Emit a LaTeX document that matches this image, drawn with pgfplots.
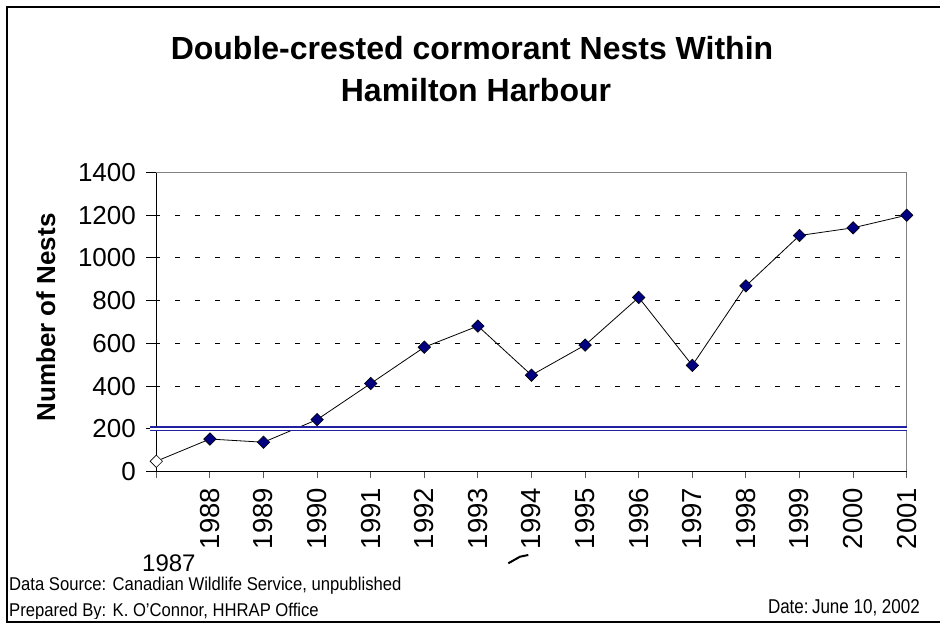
\documentclass[border=0pt]{standalone}
\usepackage{fontspec}
\setmainfont{Liberation Sans}
\usepackage{pgfplots}
\pgfplotsset{compat=1.18}
\usepackage{graphicx}

\definecolor{nestnavy}{RGB}{0,0,128}
\definecolor{targetblue}{RGB}{32,32,160}
\definecolor{framegray}{RGB}{128,128,128}

\newcommand{\fsz}[1]{\fontsize{#1bp}{#1bp}\selectfont}

\begin{document}
\begin{tikzpicture}
\useasboundingbox (0,0) rectangle (940bp,624bp);

% outer frame: left, top and bottom edges (right edge runs off the page)
\draw[line width=1.3bp] (950bp,617bp) -- (7bp,617bp) -- (7bp,2bp) -- (950bp,2bp);

% title
\node[anchor=base, font=\fsz{32}\bfseries] at (472bp,564bp) {Double-crested cormorant Nests Within};
\node[anchor=base, font=\fsz{32}\bfseries] at (476bp,522bp) {Hamilton Harbour};

% y axis title
\node[anchor=base, rotate=90, font=\fsz{26}\bfseries] at (55bp,306.5bp) {Number of Nests};

\begin{axis}[
  at={(156.3bp,152.5bp)}, anchor=south west,
  scale only axis, width=750.4bp, height=299bp,
  xmin=1987, xmax=2001, ymin=0, ymax=1400,
  axis x line*=bottom, axis y line*=left,
  axis line style={black, line width=0.9bp},
  xtick={1987,1988,...,2001},
  xticklabels={,1988,1989,1990,1991,1992,1993,1994,1995,1996,1997,1998,1999,2000,2001},
  ytick={0,200,...,1400},
  tick align=outside,
  xtick style={black!65, line width=0.9bp, /pgfplots/major tick length=7bp},
  ytick style={black, line width=0.9bp, /pgfplots/major tick length=10bp},
  ymajorgrids,
  grid style={black, line width=0.9bp, dash pattern=on 5bp off 15bp, dash phase=1bp},
  yticklabel style={font=\fsz{26}, anchor=east, inner sep=0pt},
  xticklabel style={font=\fsz{27.5}, rotate=90, anchor=east, inner sep=0pt},
  xticklabel shift=12bp,
  yticklabel shift=16bp,
  /pgf/number format/assume math mode=true,
  /pgf/number format/1000 sep={},
  clip=false,
]
% gray top and right edges of the plot area
\draw[framegray, line width=1.2bp] (rel axis cs:0,1) -- (rel axis cs:1,1) -- (rel axis cs:1,0);

% nest counts, 1987-2001
\addplot[black, line width=0.8bp, mark=square*, mark size=4.4bp,
  mark phase=2, mark repeat=1,
  mark options={solid, fill=nestnavy, draw=black, line width=0.6bp, rotate=45}]
  coordinates {
  (1987,48) (1988,152) (1989,137) (1990,243) (1991,412) (1992,582)
  (1993,681) (1994,451) (1995,592) (1996,815) (1997,497) (1998,869)
  (1999,1105) (2000,1141) (2001,1200)
  };
% 1987 shown with an open marker
\addplot[only marks, mark=square*, mark size=4.4bp,
  mark options={fill=white, draw=black, line width=0.6bp, rotate=45}]
  coordinates {(1987,48)};

% target level of 200 nests
\addplot[targetblue, line width=1.6bp, double=white, double distance=1.5bp]
  coordinates {(1986.89,200) (2001,200)};
\end{axis}

% stray tick label and fragment below the axis
\node[anchor=base west, inner sep=0pt, font=\fsz{24}] at (142bp,52.5bp) {1987};
\draw[line width=2bp] (508.3bp,60.7bp) -- (520bp,67.3bp) -- (528.3bp,69bp);

% footer
\node[anchor=base west, inner sep=0pt, font=\fsz{18.5}] at (9bp,34bp)
  {\scalebox{0.9}[1]{Data Source:\hspace{7bp}Canadian Wildlife Service, unpublished}};
\begin{scope}
  \clip (0bp,5bp) rectangle (940bp,624bp);
  \node[anchor=base west, inner sep=0pt, font=\fsz{18.5}] at (9bp,7.4bp)
    {\scalebox{0.9}[1]{Prepared By:\hspace{7bp}K. O'Connor, HHRAP Office}};
\end{scope}
\node[anchor=base east, inner sep=0pt, font=\fsz{20}] at (920bp,10.7bp)
  {\scalebox{0.85}[1]{Date:\hspace{4bp}June 10, 2002}};
\end{tikzpicture}
\end{document}
